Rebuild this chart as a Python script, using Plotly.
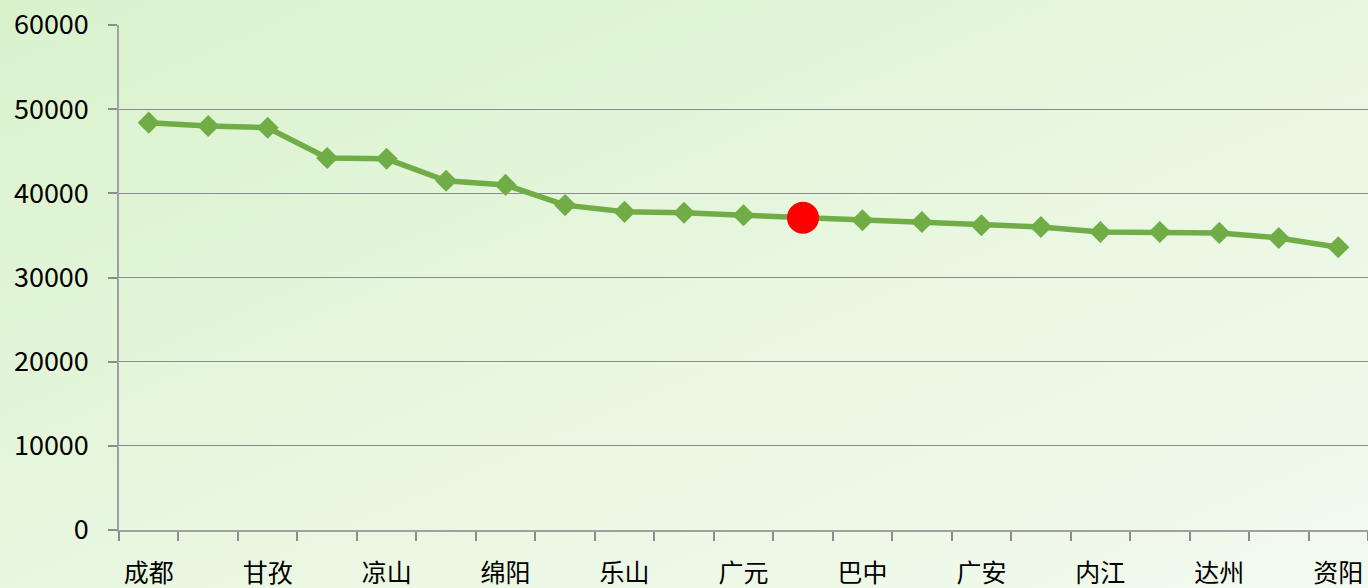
import plotly.graph_objects as go

cities = ["成都", "阿坝", "甘孜", "攀枝花", "凉山", "德阳", "绵阳", "雅安", "乐山", "宜宾", "广元",
          "眉山", "巴中", "泸州", "广安", "自贡", "内江", "遂宁", "达州", "南充", "资阳"]
values = [48400, 48000, 47800, 44200, 44100, 41500, 41000, 38600, 37800, 37700, 37400,
          37100, 36800, 36600, 36200, 36000, 35400, 35400, 35300, 34700, 33600]
highlight_index = 11
shown_labels = [c if i % 2 == 0 else "" for i, c in enumerate(cities)]
y_ticks = [0, 10000, 20000, 30000, 40000, 50000, 60000]

W, H = 1368, 588
ML, MR, MT, MB = 119, 0, 25, 58
PW, PH = W - ML - MR, H - MT - MB

bg_svg = ("data:image/svg+xml;utf8,"
          "<svg xmlns='http://www.w3.org/2000/svg' width='1368' height='588' preserveAspectRatio='none'>"
          "<defs><linearGradient id='g' x1='0' y1='0' x2='1' y2='1'>"
          "<stop offset='0' stop-color='%23d9f2cc'/>"
          "<stop offset='0.55' stop-color='%23e9f7e1'/>"
          "<stop offset='1' stop-color='%23f2faee'/>"
          "</linearGradient></defs>"
          "<rect width='1368' height='588' fill='url(%23g)'/></svg>")

fig = go.Figure()
fig.add_trace(go.Scatter(
    x=cities, y=values, mode="lines+markers",
    line=dict(color="#70ad47", width=5.5),
    marker=dict(symbol="diamond", size=17, color="#70ad47"),
    showlegend=False, hoverinfo="x+y", cliponaxis=False))
fig.add_trace(go.Scatter(
    x=[cities[highlight_index]], y=[values[highlight_index]], mode="markers",
    marker=dict(symbol="circle", size=32, color="#ff0000", line=dict(width=0)),
    showlegend=False, cliponaxis=False))

font_family = "Noto Sans CJK SC, Microsoft YaHei, sans-serif"
fig.update_layout(
    width=W, height=H,
    margin=dict(l=ML, r=MR, t=MT, b=MB, pad=0),
    paper_bgcolor="#e6f6de", plot_bgcolor="rgba(0,0,0,0)",
    font=dict(family=font_family, size=24, color="#000000"),
    images=[dict(source=bg_svg, xref="paper", yref="paper",
                 x=-ML / PW, y=1 + MT / PH, sizex=W / PW, sizey=H / PH,
                 sizing="stretch", layer="below", xanchor="left", yanchor="top")],
    xaxis=dict(
        type="category", tickmode="array", tickvals=cities, ticktext=shown_labels,
        tickson="boundaries", ticks="outside", ticklen=9, tickcolor="#8c8c8c", tickwidth=1.5,
        showline=True, linecolor="#a0a0a0", linewidth=1.5,
        showgrid=False, tickangle=0, tickfont=dict(size=25), ticklabelstandoff=20,
        range=[-0.5, len(cities) - 0.5], zeroline=False),
    yaxis=dict(
        range=[0, 60000], tickvals=y_ticks, tickformat="d", ticks="outside", ticklen=9,
        tickcolor="#8c8c8c", tickwidth=1.5,
        showline=True, linecolor="#a0a0a0", linewidth=1.5,
        showgrid=True, gridcolor="#8c8c8c", gridwidth=1.2,
        zeroline=False, tickfont=dict(size=27), ticklabelstandoff=14),
)
fig.write_html("out.html", config={"displayModeBar": False},
               post_script="document.body.style.margin='0';document.body.style.overflow='hidden';")
